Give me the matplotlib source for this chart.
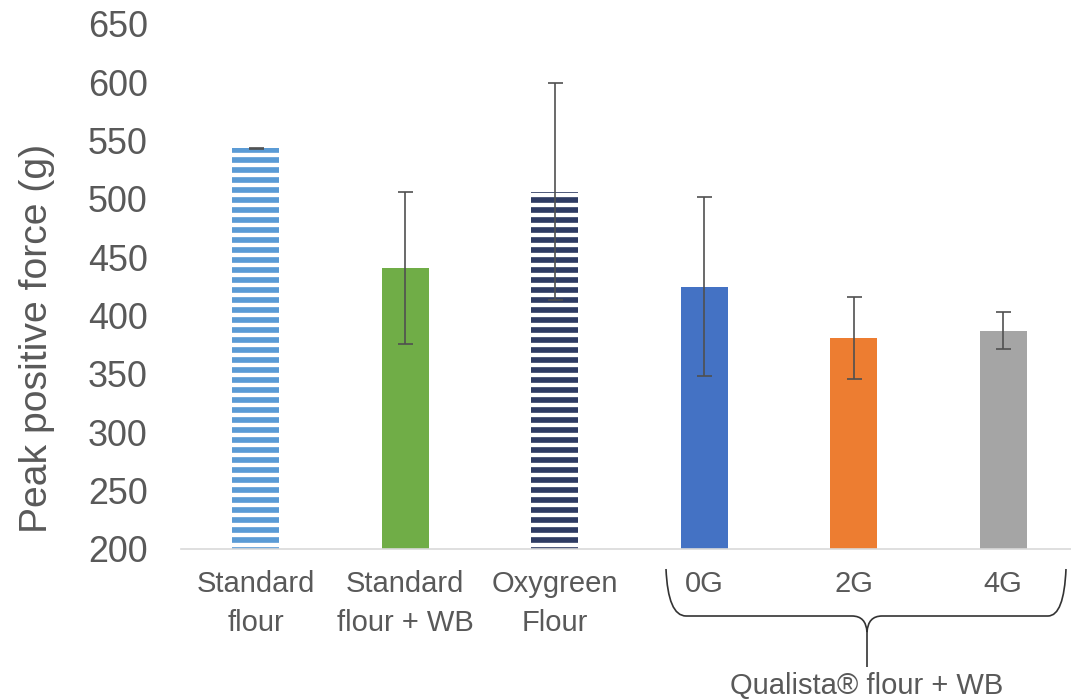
import numpy as np
import matplotlib as mpl
mpl.use('Agg')
import matplotlib.pyplot as plt
from matplotlib.path import Path
from matplotlib.patches import PathPatch

# data
labels = ['Standard\nflour', 'Standard\nflour + WB', 'Oxygreen\nFlour', '0G', '2G', '4G']
values = [543.5, 441, 506, 425, 381, 387]
errors = [0.5, 65, 93, 77, 35, 16]
colors = ['#5B9BD5', '#70AD47', '#2E3B63', '#4472C4', '#ED7D31', '#A5A5A5']
hatches = ['--', None, '--', None, None, None]
group_label = 'Qualista\u00ae flour + WB'

W, H, DPI = 1071, 700, 120
TXT = '#595959'

mpl.rcParams.update({
    'font.family': ['Liberation Sans', 'DejaVu Sans'],
    'hatch.linewidth': 2.6,
})

fig = plt.figure(figsize=(W / DPI, H / DPI), dpi=DPI)
ax = fig.add_axes([181 / W, 1 - 549 / H, (1078 - 181) / W, (549 - 24) / H])

x = np.arange(len(values))
for i in x:
    if hatches[i]:
        ax.bar(x[i], values[i] - 200, bottom=200, width=0.315, color=colors[i],
               edgecolor='white', linewidth=0, hatch=hatches[i], zorder=2)
    else:
        ax.bar(x[i], values[i] - 200, bottom=200, width=0.315, color=colors[i],
               linewidth=0, zorder=2)

ax.errorbar(x, values, yerr=errors, fmt='none', ecolor='#505050',
            elinewidth=1.0, capsize=4.5, capthick=1.0, zorder=3)

ax.set_ylim(200, 650)
ax.set_xlim(-0.5, 5.5)
ax.set_yticks(np.arange(200, 651, 50))
ax.set_xticks(x)
ax.set_xticklabels(labels, fontsize=17.5, color=TXT, linespacing=1.5)
ax.tick_params(axis='y', length=0, pad=20, labelsize=21.5, labelcolor=TXT)
ax.tick_params(axis='x', length=0, pad=12.5)

for s in ['top', 'right', 'left']:
    ax.spines[s].set_visible(False)
ax.spines['bottom'].set_color('#D9D9D9')
ax.spines['bottom'].set_linewidth(1.0)

fig.text(37 / W, 1 - 338 / H, 'Peak positive force (g)', rotation=90,
         ha='center', va='center', fontsize=23.5, color=TXT)

# curly brace under the Qualista group
def p(px, py):
    return (px / W, 1 - py / H)

verts = [p(666, 569), p(668, 616), p(686, 616), p(852, 616),
         p(866, 616), p(867, 632), p(867, 667),
         p(867, 632), p(868, 616), p(882, 616), p(1048, 616),
         p(1064, 616), p(1066, 569)]
codes = [Path.MOVETO, Path.CURVE3, Path.CURVE3, Path.LINETO,
         Path.CURVE3, Path.CURVE3, Path.LINETO,
         Path.MOVETO, Path.CURVE3, Path.CURVE3, Path.LINETO,
         Path.CURVE3, Path.CURVE3]
fig.add_artist(PathPatch(Path(verts, codes), transform=fig.transFigure,
                         fill=False, edgecolor='#333333', linewidth=1.0))

fig.text(867 / W, 1 - 686 / H, group_label, ha='center', va='center',
         fontsize=17.5, color=TXT)

fig.savefig('out.png', dpi=DPI)
